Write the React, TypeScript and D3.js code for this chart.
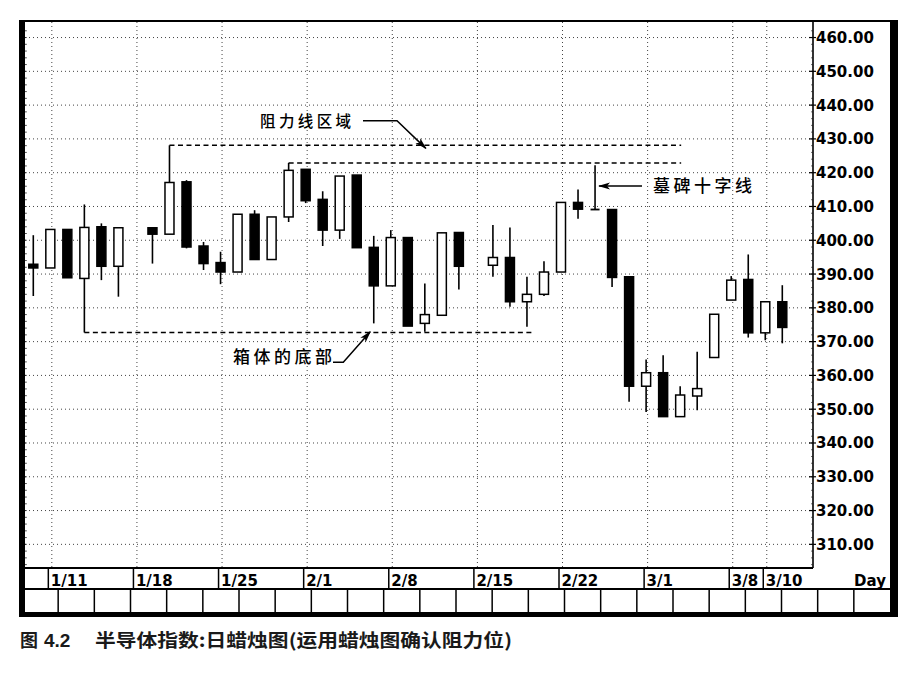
import * as d3 from "d3";

// trading-day slots (1/18 and 2/15 were market holidays, kept as empty slots)
const dates = [
  "1/8", "1/11", "1/12", "1/13", "1/14", "1/15", "1/18", "1/19", "1/20", "1/21", "1/22",
  "1/25", "1/26", "1/27", "1/28", "1/29", "2/1", "2/2", "2/3", "2/4", "2/5",
  "2/8", "2/9", "2/10", "2/11", "2/12", "2/15", "2/16", "2/17", "2/18", "2/19",
  "2/22", "2/23", "2/24", "2/25", "2/26", "3/1", "3/2", "3/3", "3/4", "3/5",
  "3/8", "3/9", "3/10", "3/11",
];
const opens = [
  392.9, 391.8, 403.2, 388.7, 404.0, 392.3, null, 403.7, 401.8, 417.3, 398.3,
  393.4, 390.6, 407.7, 394.3, 406.9, 421.0, 412.1, 403.0, 419.3, 397.9,
  386.5, 400.8, 375.4, 377.8, 402.3, null, 392.6, 394.9, 381.8, 384.0,
  390.6, 411.2, 409.1, 409.1, 389.2, 356.8, 360.8, 347.8, 353.9, 365.3,
  382.3, 388.4, 372.6, 381.8,
];
const closes = [
  391.8, 403.2, 388.9, 403.8, 392.3, 403.7, null, 401.8, 417.1, 398.0, 393.1,
  390.6, 407.7, 394.3, 406.9, 420.7, 411.7, 403.0, 419.0, 397.8, 386.5,
  400.8, 374.6, 378.0, 402.2, 392.3, null, 394.9, 381.8, 384.0, 390.6,
  411.2, 409.2, 409.1, 389.0, 356.8, 360.8, 347.8, 354.2, 356.1, 378.1,
  388.2, 372.6, 381.8, 374.2,
];
const highs = [
  401.5, 403.2, 403.2, 410.6, 405.0, 403.7, null, 403.7, 428.1, 417.8, 399.5,
  396.6, 407.7, 408.9, 406.9, 422.9, 421.0, 414.5, 419.0, 419.3, 401.3,
  403.0, 400.8, 387.2, 402.2, 402.3, null, 404.5, 403.8, 389.2, 393.8,
  411.2, 415.0, 422.2, 409.1, 389.2, 364.7, 366.0, 356.8, 367.0, 378.1,
  389.4, 395.8, 381.8, 386.7,
];
const lows = [
  383.5, 391.8, 388.9, 372.7, 388.2, 383.3, null, 393.1, 401.8, 397.6, 391.2,
  387.0, 390.6, 394.3, 394.3, 405.4, 411.0, 398.3, 400.4, 397.8, 375.4,
  386.5, 374.6, 372.9, 377.8, 385.4, null, 389.2, 380.3, 374.4, 383.5,
  390.6, 406.4, 409.1, 386.2, 352.2, 349.2, 347.8, 347.8, 349.7, 365.3,
  382.3, 371.2, 370.4, 369.5,
];

const dateLabels = ["1/11", "1/18", "1/25", "2/1", "2/8", "2/15", "2/22", "3/1", "3/8", "3/10"];
const yTicks = d3.range(310, 461, 10);

// dashed guide lines: level, start date, end date
const guideLevels = [428.1, 422.9, 372.7];
const guideStart = ["1/20", "1/29", "1/13"];
const guideEnd = ["3/3", "3/3", "2/18"];
const guideEndPad = [1, 1, 7];

const x = d3.scalePoint<string>().domain(dates).range([33.3, 782.3]);
const y = d3.scaleLinear().domain([303.0, 464.6]).range([568, 22]);

const plotL = 25, plotR = 813, plotT = 22, plotB = 568;
const rowB = 589, boxB = 612;
const frameL = 20, frameR = 897, frameT = 21, frameB = 616;
const bodyW = 9;

const numFont = "'DejaVu Sans', Verdana, sans-serif";
const cjkFont = "'Noto Sans CJK SC', sans-serif";

function Candles() {
  return (
    <g>
      {dates.map((d, i) => {
        const o = opens[i], c = closes[i], h = highs[i], l = lows[i];
        if (o == null || c == null || h == null || l == null) return null;
        const cx = x(d)!;
        if (o === c) {
          return (
            <g key={d}>
              <line x1={cx} x2={cx} y1={y(h)} y2={y(l)} stroke="#000" strokeWidth={1.6} />
              <line x1={cx - bodyW / 2} x2={cx + bodyW / 2} y1={y(c)} y2={y(c)} stroke="#000" strokeWidth={1.8} />
            </g>
          );
        }
        const up = c > o;
        const top = y(Math.max(o, c));
        const bot = y(Math.min(o, c));
        return (
          <g key={d}>
            <line x1={cx} x2={cx} y1={y(h)} y2={y(l)} stroke="#000" strokeWidth={1.6} />
            <rect x={cx - bodyW / 2} y={top} width={bodyW} height={Math.max(bot - top, 1)}
              fill={up ? "#fff" : "#000"} stroke="#000" strokeWidth={1.5} />
          </g>
        );
      })}
    </g>
  );
}

export default function App() {
  const boxes = d3.range(1, 24).map((k) => 22 + (k * (890 - 22)) / 24);
  const minor = d3.range(304, 464, 2);
  return (
    <div style={{ position: "absolute", left: 0, top: 0 }}>
      <svg width={922} height={675} style={{ display: "block", background: "#fff" }}>
        <defs>
          <marker id="arr" markerUnits="userSpaceOnUse" markerWidth={12} markerHeight={8}
            refX={11} refY={4} orient="auto">
            <path d="M0,0.5 L12,4 L0,7.5 L3,4 z" fill="#000" />
          </marker>
        </defs>

        {/* gridlines */}
        {yTicks.map((t) => (
          <line key={t} x1={plotL} x2={plotR} y1={y(t)} y2={y(t)}
            stroke="#444" strokeWidth={1} strokeDasharray="1,3" />
        ))}
        {dateLabels.map((d) => (
          <line key={d} x1={x(d)! + 1.5} x2={x(d)! + 1.5} y1={plotT} y2={plotB}
            stroke="#444" strokeWidth={1} strokeDasharray="1,3" />
        ))}

        {/* dashed guide lines */}
        {guideLevels.map((v, i) => (
          <line key={v} x1={x(guideStart[i])!} x2={x(guideEnd[i])! + guideEndPad[i]}
            y1={y(v)} y2={y(v)} stroke="#000" strokeWidth={1.5} strokeDasharray="5,3.5" />
        ))}

        <Candles />

        {/* annotations */}
        <text x={260} y={127} fontFamily={cjkFont} fontSize={15.5} fontWeight={500}
          letterSpacing={3.4} fill="#000">阻力线区域</text>
        <polyline points={`363,120.7 ${397},120.7 ${x("2/10")! + 1},${y(427.2)}`}
          fill="none" stroke="#000" strokeWidth={1.5} markerEnd="url(#arr)" />

        <text x={233} y={363} fontFamily={cjkFont} fontSize={17} fontWeight={500}
          letterSpacing={3.5} fill="#000">箱体的底部</text>
        <polyline points={`333,362.3 343.3,362.3 ${x("2/5")! - 3.5},${y(372.9)}`}
          fill="none" stroke="#000" strokeWidth={1.5} markerEnd="url(#arr)" />

        <text x={653} y={192} fontFamily={cjkFont} fontSize={17} fontWeight={500}
          letterSpacing={3.5} fill="#000">墓碑十字线</text>
        <line x1={642} x2={x("2/24")! + 4} y1={186} y2={186} stroke="#000" strokeWidth={1.5}
          markerEnd="url(#arr)" />

        {/* right axis */}
        <line x1={plotR} x2={plotR} y1={frameT} y2={plotB} stroke="#000" strokeWidth={1.6} />
        {minor.map((t) => (
          <line key={t} x1={plotR - 1.8} x2={plotR} y1={y(t)} y2={y(t)} stroke="#222" strokeWidth={0.8} />
        ))}
        {minor.map((t) => (
          <line key={"l" + t} x1={plotL} x2={plotL + 1.8} y1={y(t)} y2={y(t)} stroke="#222" strokeWidth={0.8} />
        ))}
        {yTicks.map((t) => (
          <g key={t}>
            <line x1={plotR - 4} x2={plotR + 3} y1={y(t)} y2={y(t)} stroke="#000" strokeWidth={1.2} />
            <text x={816} y={y(t) + 5.5} fontFamily={numFont} fontWeight="bold" fontSize={15}
              fill="#000">{d3.format(".2f")(t)}</text>
          </g>
        ))}

        {/* date row */}
        <line x1={plotL} x2={plotR} y1={plotB} y2={plotB} stroke="#000" strokeWidth={1.8} />
        <line x1={frameL} x2={frameR - 6} y1={rowB} y2={rowB} stroke="#000" strokeWidth={1.8} />
        {dateLabels.map((d) => (
          <g key={d}>
            <line x1={x(d)! - 2} x2={x(d)! - 2} y1={plotB} y2={rowB} stroke="#000" strokeWidth={1.5} />
            <text x={x(d)! + 0.5} y={586} fontFamily={numFont} fontWeight="bold" fontSize={15}
              fill="#000">{d}</text>
          </g>
        ))}
        <text x={886} y={586} textAnchor="end" fontFamily={numFont} fontWeight="bold" fontSize={15}
          fill="#000">Day</text>

        {/* box row */}
        {boxes.map((bx) => (
          <line key={bx} x1={bx} x2={bx} y1={rowB} y2={boxB} stroke="#000" strokeWidth={1.5} />
        ))}

        {/* frame */}
        <rect x={frameL} y={frameT} width={frameR - frameL} height={frameB - frameT}
          fill="none" stroke="#000" strokeWidth={2} />
        <rect x={frameL} y={frameT} width={5} height={frameB - frameT} fill="#000" />
        <rect x={890} y={frameT} width={frameR - 890} height={frameB - frameT} fill="#000" />
        <rect x={frameL} y={boxB} width={frameR - frameL} height={frameB - boxB} fill="#000" />

        {/* caption */}
        <text x={20} y={647} fontFamily={cjkFont} fontWeight="bold" fontSize={18} fill="#1a1a1a">图</text>
        <text x={44} y={647} fontFamily="'Liberation Sans Narrow', 'Liberation Sans', sans-serif"
          fontWeight="bold" fontSize={19} fill="#1a1a1a">4.2</text>
        <text x={95} y={647} fontFamily={cjkFont} fontWeight="bold" fontSize={18} fill="#1a1a1a"
          textLength={417} lengthAdjust="spacingAndGlyphs">半导体指数:日蜡烛图(运用蜡烛图确认阻力位)</text>
      </svg>
    </div>
  );
}
